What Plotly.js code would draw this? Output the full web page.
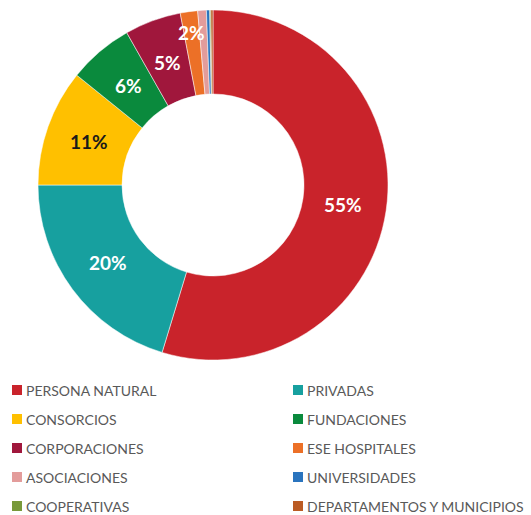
<!DOCTYPE html>
<html><head><meta charset="utf-8">
<script src="https://cdn.plot.ly/plotly-3.0.1.min.js"></script>
<style>html,body{margin:0;padding:0;background:#fff}#c{width:531px;height:515px}</style>
</head><body><div id="c"></div>
<script>
const labels = ["PERSONA NATURAL","PRIVADAS","CONSORCIOS","FUNDACIONES","CORPORACIONES","ESE HOSPITALES","ASOCIACIONES","UNIVERSIDADES","COOPERATIVAS","DEPARTAMENTOS Y MUNICIPIOS"];
const values = [54.7,20.3,10.8,6.0,5.2,1.6,0.8,0.3,0.1,0.2];
const shownLabels = ["55%","20%","11%","6%","5%","2%","","","",""];
const colors = ["#C9232B","#17A09F","#FFC000","#0A8A3D","#A0173C","#EC7027","#E39C9B","#2A74BE","#78993A","#BB5B23"];
const textColors = ["#fff","#fff","#1a1a1a","#fff","#fff","#fff","#fff","#fff","#fff","#fff"];

const W=531,H=515, cx=213, cy=185, R=175;
const FONT='Lato, "Open Sans", sans-serif';
const trace = {
  type:'pie', labels:labels, values:values, sort:false, direction:'clockwise', rotation:0,
  hole:0.52, textinfo:'none',
  marker:{colors:colors, line:{color:'#fff', width:0.5}},
  domain:{x:[(cx-R)/W,(cx+R)/W], y:[1-(cy+R)/H, 1-(cy-R)/H]},
  showlegend:false, hoverinfo:'label+percent'
};
const annotations=[], shapes=[];
const total = values.reduce((a,b)=>a+b,0);
let cum=0;
values.forEach((v,i)=>{
  const mid=(cum+v/2)/total*2*Math.PI; cum+=v;
  if(!shownLabels[i]) return;
  const r = v/total < 0.03 ? 154 : 131; // thin slice: label sits nearer the rim
  const x=cx+r*Math.sin(mid), y=cy-r*Math.cos(mid);
  annotations.push({xref:'paper',yref:'paper',x:x/W,y:1-y/H,xanchor:'center',yanchor:'middle',showarrow:false,text:'<b>'+shownLabels[i]+'</b>',font:{family:FONT,size:19,color:textColors[i]}});
});
const rowY=[390,419,448,477,506];
labels.forEach((l,i)=>{
  const col=i%2, row=Math.floor(i/2);
  const mx = col===0?12:293, y=rowY[row];
  shapes.push({type:'rect', xref:'paper', yref:'paper', x0:mx/W, x1:(mx+10)/W, y0:1-(y+5)/H, y1:1-(y-5)/H, fillcolor:colors[i], line:{width:0}});
  annotations.push({xref:'paper', yref:'paper', x:(mx+12)/W, y:1-y/H, xanchor:'left', yanchor:'middle', showarrow:false, text:l, font:{family:FONT, size:14, color:'#595959'}});
});
Plotly.newPlot('c',[trace],{width:W,height:H,margin:{l:0,r:0,t:0,b:0},paper_bgcolor:'#fff',showlegend:false,annotations:annotations,shapes:shapes},{staticPlot:true});
</script></body></html>
